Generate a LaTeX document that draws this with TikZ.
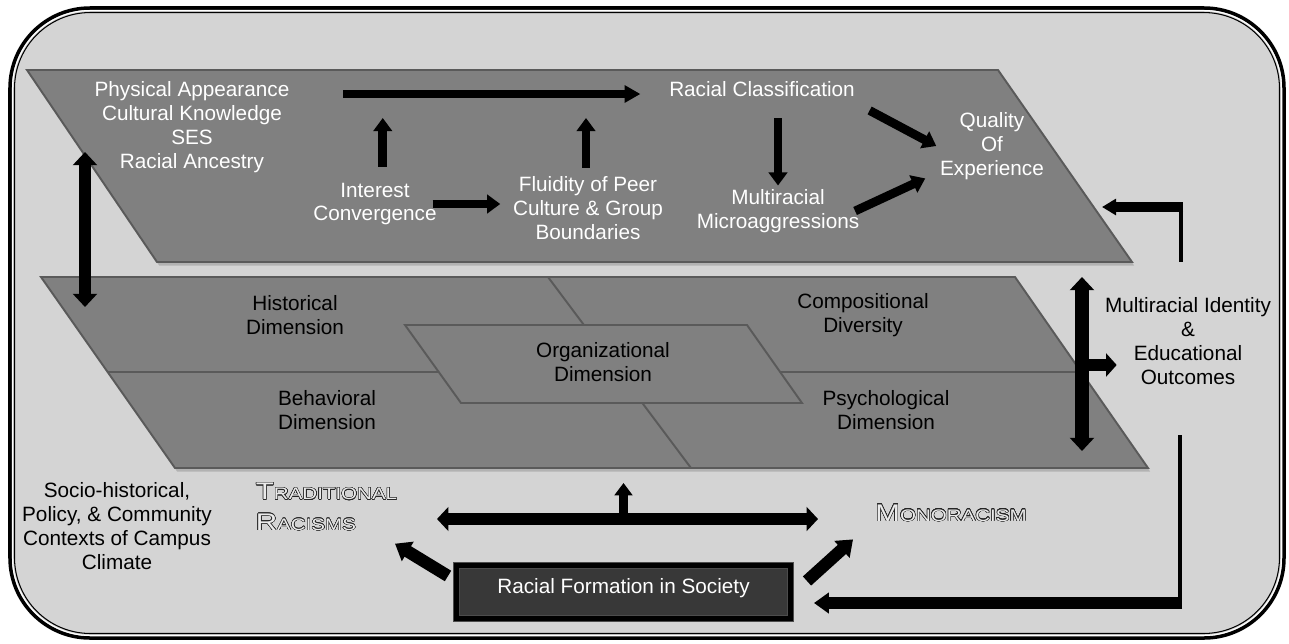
\documentclass[tikz,border=0pt]{standalone}
\usepackage{fontspec}
\setmainfont{Liberation Sans}
\usepackage{graphicx}
\usepackage[copies]{contour}
\contourlength{0.2pt}
\contournumber{24}
\usepackage{tikz}
\usetikzlibrary{arrows.meta, positioning, shadows}
\definecolor{framegray}{HTML}{D4D4D4}
\definecolor{planegray}{HTML}{808080}
\definecolor{planeedge}{HTML}{5A5A5A}
\definecolor{boxdark}{HTML}{383838}
\newcommand{\engrave}[2]{\scalebox{1.23}[1]{\contour{black!85}{{\fontsize{13.7}{16}\selectfont #1}{\fontsize{9.5}{16}\selectfont #2}}}}

\begin{document}
\begin{tikzpicture}[x=0.02cm, y=-0.02cm,
    font=\fontsize{11.8}{13.6}\selectfont,
    plane/.style={draw=planeedge, line width=1.1pt, fill=planegray,
                  drop shadow={shadow xshift=1.2pt, shadow yshift=-2pt, opacity=.4}},
    subplane/.style={draw=planeedge, line width=1.1pt, fill=planegray},
    divider/.style={draw=planeedge, line width=1.1pt},
    wtxt/.style={text=white, align=center, inner sep=2pt},
    btxt/.style={text=black, align=center, inner sep=2pt},
    ctxt/.style={text=white!92!black, align=left, inner sep=2pt},
    arr/.style={line width=5pt, -{Triangle[width=10.5pt, length=7.5pt]}},
    longarr/.style={line width=4.6pt, -{Triangle[width=9.5pt, length=9pt]}},
    dblarr/.style={line width=#1, {Triangle[width=13.5pt, length=7.5pt]}-{Triangle[width=13.5pt, length=7.5pt]}},
    dblarr/.default=7pt,
    fatarr/.style={line width=7pt, -{Triangle[width=12.5pt, length=8.5pt]}},
    feedline/.style={line width=2pt},
    rfbox/.style={draw=black!70, double=black, line width=.6pt, double distance=2.6pt,
                  fill=boxdark, text=white, minimum width=6.68cm, minimum height=1.06cm,
                  text depth=6.5pt},
  ]
  \useasboundingbox (0,0) rectangle (1289,643);

  % frame
  \draw[fill=framegray, line width=2pt, rounded corners=1.6cm] (10,8) rectangle (1284,638);
  \draw[white, line width=.6pt, rounded corners=1.56cm] (12.5,10.5) rectangle (1281.5,635.5);
  \draw[line width=.6pt, rounded corners=1.52cm] (14.5,12.5) rectangle (1279.5,633.5);

  % planes
  \coordinate (up1) at (27,70);
  \coordinate (up2) at (998,70);
  \coordinate (up3) at (1132,262);
  \coordinate (up4) at (157,262);
  \draw[plane] (up1) -- (up2) -- (up3) -- (up4) -- cycle;
  \coordinate (lp1) at (41,277);
  \coordinate (lp2) at (1015,277);
  \coordinate (lp3) at (1148,468);
  \coordinate (lp4) at (175,468);
  \draw[plane] (lp1) -- (lp2) -- (lp3) -- (lp4) -- cycle;
  \draw[divider] (548,277) -- (691,468);
  \draw[divider] (107,372) -- (1081,372);
  \draw[subplane] (405,325) -- (747,325) -- (802,403) -- (461,403) -- cycle;

  % upper plane
  \node[wtxt] (phys) at (192,127) {Physical Appearance\\Cultural Knowledge\\SES\\Racial Ancestry};
  \node[wtxt] (interest) at (375,204) {Interest\\Convergence};
  \node[wtxt] (fluid) at (588,208) {Fluidity of Peer\\Culture \& Group\\Boundaries};
  \node[wtxt] (racecl) at (762,89) {Racial Classification};
  \node[wtxt] (micro) at (778,211) {Multiracial\\Microaggressions};
  \node[wtxt] (quality) at (992,146) {Quality\\Of\\Experience};

  % lower plane
  \node[btxt] (hist) at (295,315) {Historical\\Dimension};
  \node[btxt] (behav) at (327,410) {Behavioral\\Dimension};
  \node[btxt] (org) at (603,362) {Organizational\\Dimension};
  \node[btxt] (comp) at (863,315) {Compositional\\Diversity};
  \node[btxt] (psych) at (886,410) {Psychological\\Dimension};

  % outside
  \node[btxt] (mrid) at (1188,341) {Multiracial Identity\\\&\\Educational\\Outcomes};
  \node[btxt] (socio) at (117,526) {Socio-historical,\\Policy, \& Community\\Contexts of Campus\\Climate};
  \node[ctxt, anchor=west, font=\linespread{1.2}\selectfont] (trad) at (252,507)
    {\engrave{T}{RADITIONAL}\\[3pt]\engrave{R}{ACISMS}};
  \node[ctxt] (mono) at (951,513) {\engrave{M}{ONORACISM}};
  \node[rfbox] (rf) at (623.5,592) {Racial Formation in Society};

  % arrows in the upper plane
  \draw[longarr] ([xshift=1cm, yshift=-0.1cm]phys.east |- racecl)
    -- coordinate[pos=.133] (ic) coordinate[pos=.817] (fc)
    ([xshift=-0.5cm, yshift=-0.1cm]racecl.west);
  \draw[arr] ([yshift=0.24cm]ic |- interest.north) -- ([yshift=-0.48cm]ic);
  \draw[arr] ([yshift=0.1cm]fc |- fluid.north) -- ([yshift=-0.48cm]fc);
  \draw[arr] ([xshift=-0.16cm]interest.east) -- ([xshift=-0.18cm]interest.east -| fluid.west);
  \draw[arr] ([yshift=-0.36cm]micro.north |- racecl.south) -- (micro.north);
  \draw[arr] ([shift={(0.22cm,-0.2cm)}]racecl.south east) -- (quality.west);
  \draw[arr] ([xshift=-0.16cm]micro.east) -- ([shift={(-0.22cm,0.1cm)}]quality.south west);

  % between the planes
  \coordinate (lv1) at (85,152);
  \coordinate (lv2) at (85,307);
  \draw[dblarr=6.8pt] (lv1) -- (lv2);
  \coordinate (rt) at (1082,277);
  \coordinate (rb) at (1082,451);
  \coordinate (rm) at (1082,365);
  \draw[dblarr=8pt] (rt) -- (rb);
  \draw[line width=6.5pt, -{Triangle[width=13pt, length=6pt]}] (rm) -- ([xshift=0.31cm]mrid.west |- rm);

  % feedback
  \coordinate (fbt) at (1181,207);
  \draw[feedline] ([yshift=0.64cm]mrid.north -| fbt) -- ([yshift=0.1cm]fbt);
  \draw[line width=5.7pt, -{Triangle[width=9pt, length=8pt]}] ([xshift=0.04cm]fbt) -- (1102,207);
  \coordinate (fbb) at (1180,603);
  \draw[feedline] ([yshift=-0.94cm]mrid.south -| fbb) -- ([yshift=-0.12cm]fbb);
  \draw[line width=6.6pt, -{Triangle[width=11.5pt, length=8.5pt]}] ([xshift=0.04cm]fbb) -- ([xshift=0.46cm]rf.east |- fbb);

  % bottom
  \coordinate (bw) at ([xshift=0.72cm, yshift=-0.24cm]trad.east);
  \draw[line width=6.6pt, {Triangle[width=13.5pt, length=6.5pt]}-{Triangle[width=13.5pt, length=6.5pt]}]
    (bw) -- ([xshift=-1.07cm]mono.west |- bw);
  \draw[line width=5pt, -{Triangle[width=10pt, length=7pt]}] (rf.north |- bw) -- ([yshift=-0.3cm]rf.north |- lp4);
  \draw[fatarr] ([shift={(-0.16cm,-0.22cm)}]rf.north west) -- ([shift={(-0.12cm,-0.18cm)}]trad.south east);
  \draw[fatarr] ([shift={(0.32cm,-0.32cm)}]rf.north east) -- ([shift={(-0.37cm,-0.28cm)}]mono.south west);
\end{tikzpicture}
\end{document}
